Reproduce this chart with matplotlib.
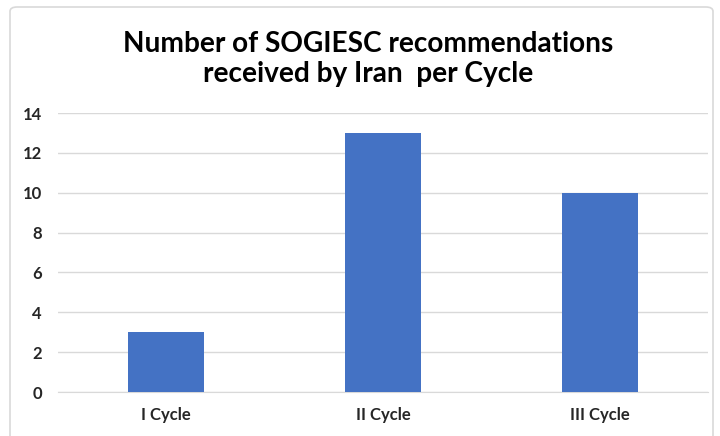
import matplotlib.pyplot as plt
from matplotlib.patches import FancyBboxPatch

categories = ['I Cycle', 'II Cycle', 'III Cycle']
counts = [3, 13, 10]
yticks = [0, 2, 4, 6, 8, 10, 12, 14]

plt.rcParams['font.family'] = ['Lato', 'DejaVu Sans']

fig = plt.figure(figsize=(7.2, 4.36), dpi=100)
ax = fig.add_axes([58 / 720, 1 - 392 / 436, 650 / 720, 279 / 436])

# chart frame
frame = FancyBboxPatch((10 / 720, -10 / 436), 703 / 720, 439 / 436,
                       boxstyle='round,pad=0,rounding_size=0.01',
                       transform=fig.transFigure, fill=False,
                       edgecolor='#d9d9d9', linewidth=1.2, zorder=0)
fig.patches.append(frame)

x = range(len(categories))
ax.bar(x, counts, width=0.35, color='#4472c4', zorder=3)

ax.set_xlim(-0.5, 2.5)
ax.set_ylim(0, 14)
ax.set_yticks(yticks)
ax.set_xticks(list(x))
ax.set_xticklabels(categories)
ax.yaxis.grid(True, color='#d9d9d9', linewidth=1)
ax.set_axisbelow(True)
for s in ['top', 'right', 'left']:
    ax.spines[s].set_visible(False)
ax.spines['bottom'].set_color('#d9d9d9')
ax.tick_params(length=0)
ax.tick_params(axis='y', pad=11.5)
ax.tick_params(axis='x', pad=11)
for lbl in ax.get_xticklabels() + ax.get_yticklabels():
    lbl.set_fontsize(12)
    lbl.set_fontweight('bold')
    lbl.set_color('#262626')

fig.text(0.511, 0.865, 'Number of SOGIESC recommendations\nreceived by Iran  per Cycle',
         ha='center', va='center', fontsize=20.2, fontweight='bold',
         color='#000000', linespacing=1.2)

fig.savefig('out.png', dpi=100)
